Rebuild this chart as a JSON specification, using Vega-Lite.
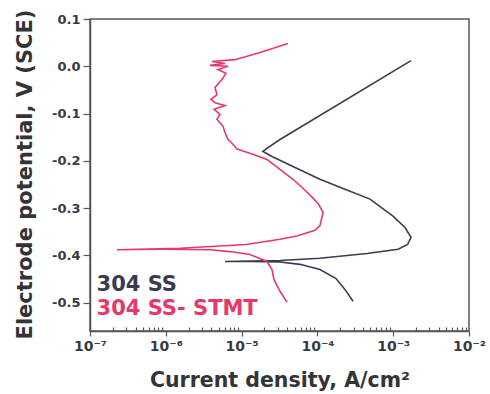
{
  "$schema": "https://vega.github.io/schema/vega-lite/v6.json",
  "autosize": "none",
  "width": 379,
  "height": 312,
  "padding": {"left": 90, "top": 19, "right": 21, "bottom": 63},
  "background": "white",
  "config": {
    "view": {"stroke": "#5e5258", "strokeWidth": 1.5},
    "font": "DejaVu Sans"
  },
  "datasets": {
    "curves": [
      {"series": "304 SS", "order": 1, "cur": 2.95e-4, "pot": -0.497},
      {"series": "304 SS", "order": 2, "cur": 2.31e-4, "pot": -0.472},
      {"series": "304 SS", "order": 3, "cur": 1.76e-4, "pot": -0.449},
      {"series": "304 SS", "order": 4, "cur": 1.08e-4, "pot": -0.430},
      {"series": "304 SS", "order": 5, "cur": 5.89e-5, "pot": -0.419},
      {"series": "304 SS", "order": 6, "cur": 3.21e-5, "pot": -0.414},
      {"series": "304 SS", "order": 7, "cur": 1.29e-5, "pot": -0.413},
      {"series": "304 SS", "order": 8, "cur": 6.04e-6, "pot": -0.413},
      {"series": "304 SS", "order": 9, "cur": 1.29e-5, "pot": -0.412},
      {"series": "304 SS", "order": 10, "cur": 3.21e-5, "pot": -0.411},
      {"series": "304 SS", "order": 11, "cur": 1.08e-4, "pot": -0.406},
      {"series": "304 SS", "order": 12, "cur": 4.51e-4, "pot": -0.396},
      {"series": "304 SS", "order": 13, "cur": 1.16e-3, "pot": -0.387},
      {"series": "304 SS", "order": 14, "cur": 1.55e-3, "pot": -0.377},
      {"series": "304 SS", "order": 15, "cur": 1.72e-3, "pot": -0.362},
      {"series": "304 SS", "order": 16, "cur": 1.43e-3, "pot": -0.341},
      {"series": "304 SS", "order": 17, "cur": 9.93e-4, "pot": -0.317},
      {"series": "304 SS", "order": 18, "cur": 4.94e-4, "pot": -0.281},
      {"series": "304 SS", "order": 19, "cur": 2.31e-4, "pot": -0.260},
      {"series": "304 SS", "order": 20, "cur": 1.08e-4, "pot": -0.239},
      {"series": "304 SS", "order": 21, "cur": 4.76e-5, "pot": -0.212},
      {"series": "304 SS", "order": 22, "cur": 2.52e-5, "pot": -0.191},
      {"series": "304 SS", "order": 23, "cur": 1.91e-5, "pot": -0.180},
      {"series": "304 SS", "order": 24, "cur": 2.23e-5, "pot": -0.172},
      {"series": "304 SS", "order": 25, "cur": 3.21e-5, "pot": -0.155},
      {"series": "304 SS", "order": 26, "cur": 1.72e-3, "pot": 0.012},
      {"series": "304 SS- STMT", "order": 1, "cur": 3.97e-5, "pot": -0.499},
      {"series": "304 SS- STMT", "order": 2, "cur": 3.21e-5, "pot": -0.476},
      {"series": "304 SS- STMT", "order": 3, "cur": 2.67e-5, "pot": -0.451},
      {"series": "304 SS- STMT", "order": 4, "cur": 2.52e-5, "pot": -0.430},
      {"series": "304 SS- STMT", "order": 5, "cur": 2.16e-5, "pot": -0.413},
      {"series": "304 SS- STMT", "order": 6, "cur": 1.29e-5, "pot": -0.398},
      {"series": "304 SS- STMT", "order": 7, "cur": 7.03e-6, "pot": -0.392},
      {"series": "304 SS- STMT", "order": 8, "cur": 3.83e-6, "pot": -0.388},
      {"series": "304 SS- STMT", "order": 9, "cur": 8.38e-7, "pot": -0.387},
      {"series": "304 SS- STMT", "order": 10, "cur": 2.27e-7, "pot": -0.388},
      {"series": "304 SS- STMT", "order": 11, "cur": 1.54e-6, "pot": -0.385},
      {"series": "304 SS- STMT", "order": 12, "cur": 1.14e-5, "pot": -0.377},
      {"series": "304 SS- STMT", "order": 13, "cur": 3.21e-5, "pot": -0.366},
      {"series": "304 SS- STMT", "order": 14, "cur": 5.38e-5, "pot": -0.359},
      {"series": "304 SS- STMT", "order": 15, "cur": 9.29e-5, "pot": -0.347},
      {"series": "304 SS- STMT", "order": 16, "cur": 1.08e-4, "pot": -0.337},
      {"series": "304 SS- STMT", "order": 17, "cur": 1.19e-4, "pot": -0.309},
      {"series": "304 SS- STMT", "order": 18, "cur": 1.02e-4, "pot": -0.290},
      {"series": "304 SS- STMT", "order": 19, "cur": 8.75e-5, "pot": -0.279},
      {"series": "304 SS- STMT", "order": 20, "cur": 6.46e-5, "pot": -0.258},
      {"series": "304 SS- STMT", "order": 21, "cur": 4.76e-5, "pot": -0.239},
      {"series": "304 SS- STMT", "order": 22, "cur": 3.21e-5, "pot": -0.218},
      {"series": "304 SS- STMT", "order": 23, "cur": 2.16e-5, "pot": -0.197},
      {"series": "304 SS- STMT", "order": 24, "cur": 1.41e-5, "pot": -0.186},
      {"series": "304 SS- STMT", "order": 25, "cur": 8.69e-6, "pot": -0.175},
      {"series": "304 SS- STMT", "order": 26, "cur": 7.70e-6, "pot": -0.165},
      {"series": "304 SS- STMT", "order": 27, "cur": 6.62e-6, "pot": -0.155},
      {"series": "304 SS- STMT", "order": 28, "cur": 6.04e-6, "pot": -0.140},
      {"series": "304 SS- STMT", "order": 29, "cur": 5.69e-6, "pot": -0.127},
      {"series": "304 SS- STMT", "order": 30, "cur": 4.73e-6, "pot": -0.112},
      {"series": "304 SS- STMT", "order": 31, "cur": 5.18e-6, "pot": -0.102},
      {"series": "304 SS- STMT", "order": 32, "cur": 4.33e-6, "pot": -0.091},
      {"series": "304 SS- STMT", "order": 33, "cur": 6.04e-6, "pot": -0.083},
      {"series": "304 SS- STMT", "order": 34, "cur": 4.46e-6, "pot": -0.077},
      {"series": "304 SS- STMT", "order": 35, "cur": 3.94e-6, "pot": -0.070},
      {"series": "304 SS- STMT", "order": 36, "cur": 4.73e-6, "pot": -0.060},
      {"series": "304 SS- STMT", "order": 37, "cur": 4.46e-6, "pot": -0.045},
      {"series": "304 SS- STMT", "order": 38, "cur": 5.51e-6, "pot": -0.028},
      {"series": "304 SS- STMT", "order": 39, "cur": 6.22e-6, "pot": -0.015},
      {"series": "304 SS- STMT", "order": 40, "cur": 4.89e-6, "pot": -0.007},
      {"series": "304 SS- STMT", "order": 41, "cur": 6.62e-6, "pot": 0.000},
      {"series": "304 SS- STMT", "order": 42, "cur": 3.83e-6, "pot": 0.002},
      {"series": "304 SS- STMT", "order": 43, "cur": 6.04e-6, "pot": 0.006},
      {"series": "304 SS- STMT", "order": 44, "cur": 4.07e-6, "pot": 0.010},
      {"series": "304 SS- STMT", "order": 45, "cur": 8.18e-6, "pot": 0.014},
      {"series": "304 SS- STMT", "order": 46, "cur": 1.75e-5, "pot": 0.029},
      {"series": "304 SS- STMT", "order": 47, "cur": 4.09e-5, "pot": 0.048}
    ],
    "labels": [
      {"series": "304 SS", "cur": 1.22e-7, "pot": -0.476},
      {"series": "304 SS- STMT", "cur": 1.22e-7, "pot": -0.527}
    ]
  },
  "layer": [
    {
      "data": {"name": "curves"},
      "mark": {"type": "line", "strokeWidth": 1.6, "interpolate": "linear"},
      "encoding": {
        "x": {
          "field": "cur", "type": "quantitative",
          "scale": {"type": "log", "domain": [1e-7, 1e-2], "nice": false},
          "axis": {
            "title": "Current density, A/cm²",
            "titleFont": "DejaVu Sans", "titleFontSize": 20.5, "titleFontWeight": "bold", "titleColor": "#333338",
            "titleY": 55, "titleBaseline": "alphabetic",
            "labelFont": "DejaVu Sans", "labelFontSize": 14, "labelFontWeight": "bold", "labelColor": "#3a3a44",
            "labelPadding": 3, "labelFlush": false,
            "values": [1e-7,2e-7,3e-7,4e-7,5e-7,6e-7,7e-7,8e-7,9e-7,1e-6,2e-6,3e-6,4e-6,5e-6,6e-6,7e-6,8e-6,9e-6,1e-5,2e-5,3e-5,4e-5,5e-5,6e-5,7e-5,8e-5,9e-5,1e-4,2e-4,3e-4,4e-4,5e-4,6e-4,7e-4,8e-4,9e-4,1e-3,2e-3,3e-3,4e-3,5e-3,6e-3,7e-3,8e-3,9e-3,1e-2],
            "labelExpr": "datum.value==1e-7?'10⁻⁷':datum.value==1e-6?'10⁻⁶':datum.value==1e-5?'10⁻⁵':datum.value==1e-4?'10⁻⁴':datum.value==1e-3?'10⁻³':datum.value==1e-2?'10⁻²':''",
            "tickSize": {"condition": {"test": "abs(log(datum.value)/LN10 - round(log(datum.value)/LN10)) < 0.001", "value": 5}, "value": -4},
            "tickColor": "#5e5258", "tickWidth": 1.2,
            "domainColor": "#5e5258", "domainWidth": 1.5,
            "grid": false, "labelOverlap": false
          }
        },
        "y": {
          "field": "pot", "type": "quantitative",
          "scale": {"domain": [-0.56, 0.1], "nice": false, "zero": false},
          "axis": {
            "title": "Electrode potential, V (SCE)",
            "titleFont": "DejaVu Sans", "titleFontSize": 21, "titleFontWeight": "bold", "titleColor": "#333338",
            "titleX": -65, "titleY": 155, "titleAngle": -90, "titleBaseline": "middle", "titleAlign": "center",
            "labelFont": "DejaVu Sans", "labelFontSize": 13, "labelFontWeight": "bold", "labelColor": "#3a3a44",
            "labelPadding": 3,
            "values": [-0.5,-0.45,-0.4,-0.35,-0.3,-0.25,-0.2,-0.15,-0.1,-0.05,0,0.05,0.1],
            "labelExpr": "abs(datum.value*10 - round(datum.value*10)) < 0.01 ? replace(format(datum.value, '.1f'), '−', '-') : ''",
            "tickSize": {"condition": {"test": "abs(datum.value*10 - round(datum.value*10)) < 0.01", "value": 7}, "value": 4},
            "tickColor": "#5e5258", "tickWidth": 1.2,
            "domainColor": "#5e5258", "domainWidth": 1.5,
            "grid": false, "labelOverlap": false
          }
        },
        "order": {"field": "order", "type": "quantitative"},
        "color": {
          "field": "series", "type": "nominal",
          "scale": {"domain": ["304 SS", "304 SS- STMT"], "range": ["#3a3b4e", "#e8386a"]},
          "legend": null
        }
      }
    },
    {
      "data": {"name": "labels"},
      "mark": {"type": "text", "align": "left", "baseline": "alphabetic", "font": "DejaVu Sans", "fontSize": 21, "fontWeight": "bold"},
      "encoding": {
        "x": {"field": "cur", "type": "quantitative"},
        "y": {"field": "pot", "type": "quantitative"},
        "text": {"field": "series"},
        "color": {"field": "series", "type": "nominal", "legend": null}
      }
    }
  ]
}
